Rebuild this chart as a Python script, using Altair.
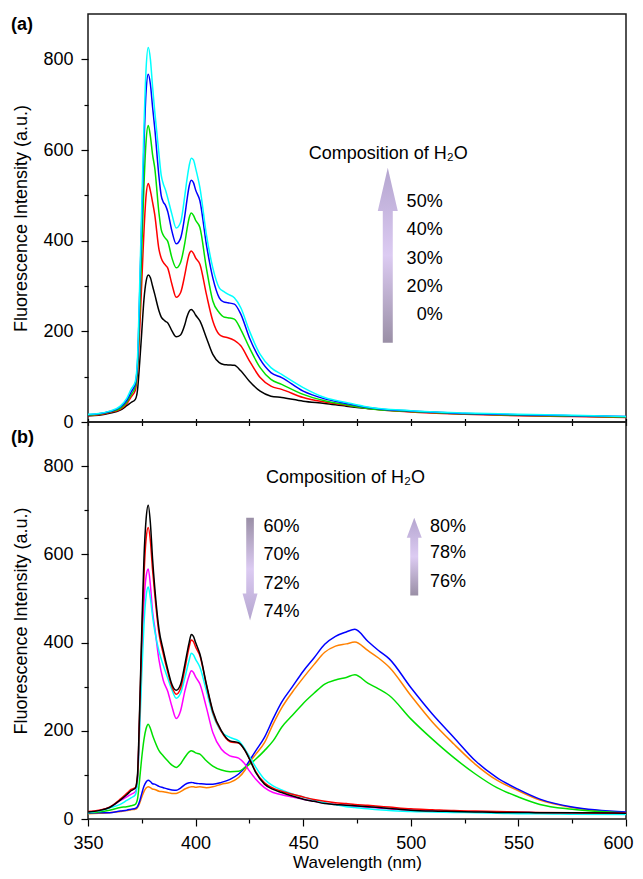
import altair as alt
import pandas as pd

# ---------------- data: panel (a) ----------------
wl_a = [350, 355, 360, 365, 368, 370, 372,
        373, 374, 375, 376, 377, 378, 379, 380, 381,
        383, 384, 385, 386, 387, 389, 391, 393, 395, 396, 397, 398, 399, 400,
        402, 405, 408, 411, 413, 415, 418, 421, 425, 430, 435, 440,
        450, 460, 470, 480, 500, 525, 550, 575, 600]
a_50 = [17, 19, 24, 35, 52, 72, 90,
        140, 300, 480, 650, 780, 826, 800, 740, 686,
        590, 545, 525, 512, 495, 458, 428, 440, 500, 535, 565, 582, 578, 560,
        517, 414, 340, 296, 288, 282, 274, 252, 201, 149, 120, 105,
        76, 54, 43, 33, 25, 20, 17, 15, 12]
a_40 = [16, 18, 23, 33, 48, 66, 85,
        130, 280, 450, 610, 730, 767, 745, 695, 649,
        540, 500, 485, 478, 465, 421, 393, 405, 455, 490, 520, 533, 528, 512,
        488, 392, 318, 274, 265, 263, 260, 238, 186, 138, 109, 98,
        68, 51, 41, 32, 24, 19, 16, 14, 12]
a_30 = [15, 17, 22, 30, 44, 60, 78,
        120, 240, 380, 520, 620, 654, 630, 590, 561,
        460, 425, 412, 405, 399, 362, 340, 352, 395, 425, 450, 461, 456, 445,
        429, 340, 267, 241, 232, 230, 227, 204, 164, 120, 94, 83,
        61, 47, 38, 30, 23, 18, 15, 13, 11]
a_20 = [14, 16, 21, 28, 40, 55, 70,
        110, 200, 310, 420, 500, 526, 510, 485, 458,
        380, 362, 352, 346, 340, 304, 275, 285, 325, 350, 370, 377, 372, 362,
        348, 282, 223, 193, 188, 186, 180, 168, 135, 98, 79, 72,
        54, 44, 37, 30, 22, 17, 14, 12, 10]
a_0 = [14, 15, 19, 26, 36, 43, 50,
       70, 130, 200, 270, 310, 324, 318, 300, 282,
       245, 232, 226, 222, 219, 201, 188, 192, 215, 232, 244, 248, 244, 236,
       223, 186, 149, 131, 127, 126, 125, 113, 90, 68, 57, 54,
       46, 41, 35, 30, 23, 18, 15, 13, 11]
series_a = ["0%", "20%", "30%", "40%", "50%"]
colors_a = ["#000000", "#ff0000", "#00e000", "#0000ff", "#00ffff"]

# ---------------- data: panel (b) ----------------
wl_b = [350, 355, 360, 365, 368, 370, 372,
        373, 374, 375, 376, 377, 378, 379, 380, 381,
        383, 385, 387, 389, 391, 393, 395, 397, 398, 399, 400,
        402, 405, 408, 412, 416, 420, 423, 425, 428, 432, 436, 440,
        445, 450, 455, 460, 465, 470, 474, 480, 485, 490,
        500, 510, 520, 530, 540, 550, 560, 575, 600]
b_60 = [16, 19, 26, 43, 55, 64, 70,
        100, 250, 430, 590, 680, 711, 670, 590, 526,
        430, 382, 340, 305, 292, 305, 350, 400, 418, 414, 400,
        374, 306, 245, 200, 177, 173, 155, 136, 105, 79, 67, 60,
        52, 45, 40, 35, 33, 31, 30, 28, 26, 24,
        20, 18, 17, 16, 15, 15, 14, 14, 13]
b_70 = [17, 20, 27, 45, 58, 67, 71,
        95, 240, 410, 550, 635, 661, 630, 565, 511,
        420, 374, 334, 300, 283, 296, 340, 390, 406, 402, 390,
        370, 304, 242, 198, 175, 172, 155, 137, 107, 82, 70, 63,
        56, 50, 44, 40, 37, 35, 33, 31, 29, 27,
        23, 21, 19, 18, 17, 16, 15, 14, 13]
b_72 = [15, 18, 25, 33, 42, 48, 55,
        85, 200, 330, 440, 505, 526, 500, 460, 427,
        380, 348, 320, 293, 274, 285, 320, 360, 376, 372, 362,
        344, 291, 238, 198, 185, 177, 158, 142, 117, 90, 75, 66,
        57, 50, 43, 37, 32, 28, 26, 23, 21, 19,
        17, 16, 15, 14, 13, 12, 12, 11, 10]
b_74 = [16, 19, 26, 42, 50, 56, 62,
        90, 220, 380, 490, 550, 567, 530, 470, 435,
        360, 314, 290, 255, 228, 245, 290, 325, 336, 332, 322,
        306, 253, 196, 158, 143, 138, 124, 109, 90, 71, 60, 55,
        50, 45, 40, 36, 33, 31, 29, 27, 25, 23,
        20, 18, 17, 16, 15, 15, 14, 14, 14]
b_76 = [14, 16, 20, 26, 28, 30, 33,
        45, 90, 140, 180, 205, 215, 205, 190, 177,
        155, 143, 132, 122, 117, 125, 140, 152, 155, 153, 150,
        147, 132, 120, 111, 107, 108, 117, 124, 136, 155, 177, 208,
        235, 262, 285, 306, 315, 321, 327, 308, 295, 280,
        227, 181, 139, 102, 71, 50, 33, 22, 14]
b_78 = [12, 13, 14, 17, 19, 21, 22,
        26, 36, 50, 62, 70, 73, 71, 68, 67,
        63, 62, 60, 58, 58, 62, 68, 72, 73, 73, 72,
        73, 71, 73, 79, 83, 94, 111, 128, 147, 173, 215, 252,
        288, 320, 350, 378, 392, 397, 401, 382, 365, 344,
        280, 220, 170, 124, 88, 64, 43, 26, 15]
b_80 = [13, 14, 14, 18, 20, 22, 24,
        28, 40, 58, 74, 84, 88, 85, 80, 79,
        74, 71, 68, 66, 65, 70, 78, 82, 83, 82, 81,
        80, 79, 79, 83, 90, 102, 117, 132, 155, 185, 227, 265,
        300, 335, 365, 396, 414, 424, 430, 403, 382, 363,
        298, 238, 185, 132, 94, 67, 45, 27, 16]
series_b = ["78%", "80%", "76%", "74%", "72%", "70%", "60%"]
colors_b = ["#ff8000", "#0000ff", "#00e000", "#ff00ff", "#00ffff", "#ff0000", "#000000"]

# annotation texts
comp_text = ["Composition of H\u2082O"]
labels_a = ["50%", "40%", "30%", "20%", "0%"]
labels_b_down = ["60%", "70%", "72%", "74%"]
labels_b_up = ["80%", "78%", "76%"]


def long(wl, names, arrays):
    rows = []
    for name, vals in zip(names, arrays):
        for w, v in zip(wl, vals):
            rows.append({"wl": w, "val": v, "series": name})
    return pd.DataFrame(rows)


df_a = long(wl_a, series_a, [a_0, a_20, a_30, a_40, a_50])
df_b = long(wl_b, series_b, [b_78, b_80, b_76, b_74, b_72, b_70, b_60])

FONT = "Liberation Sans"
FS = 18
W, HA, HB = 538, 408, 397

xs = alt.Scale(domain=[350, 600], nice=False, zero=False)
ys = alt.Scale(domain=[0, 900], nice=False)
x_ticks = list(range(350, 601, 25))
y_ticks = list(range(0, 801, 100))


def left_axis():
    return alt.Axis(orient="left", values=y_ticks,
                    labelExpr="datum.value % 200 === 0 ? datum.label : ''",
                    tickSize={"condition": {"test": "datum.value % 200 === 0", "value": 7}, "value": 4},
                    tickColor="black", tickWidth=1.2, domain=False, grid=False,
                    labelFont=FONT, labelFontSize=FS, labelColor="black", labelPadding=8,
                    title="Fluorescence Intensity (a.u.)", titleFont=FONT, titleFontSize=18,
                    titleFontWeight="normal", titleColor="black", titlePadding=12)


def bottom_axis_labeled():
    return alt.Axis(orient="bottom", values=x_ticks,
                    labelExpr="datum.value % 50 === 0 ? datum.label : ''",
                    tickSize={"condition": {"test": "datum.value % 50 === 0", "value": 7}, "value": 4},
                    labelOffset={"condition": {"test": "datum.value === 600", "value": -8}, "value": 0},
                    tickColor="black", tickWidth=1.2, domain=False, grid=False, labelFlush=False,
                    labelFont=FONT, labelFontSize=FS, labelColor="black", labelPadding=8,
                    title="Wavelength (nm)", titleFont=FONT, titleFontSize=17,
                    titleFontWeight="normal", titleColor="black", titlePadding=2)


def boundary_axis():
    # small ticks straddling the border between the two panels
    return alt.Axis(orient="bottom", values=x_ticks, labels=False, tickSize=7, offset=-3.5,
                    tickColor="black", tickWidth=1.2, domain=False, grid=False, title=None)


def grad(up=True):
    stops = [alt.GradientStop(offset=0, color="#9a8fa6"),
             alt.GradientStop(offset=0.5, color="#dccbf2"),
             alt.GradientStop(offset=1, color="#b4a5cf")]
    if up:
        return alt.LinearGradient(gradient="linear", stops=stops, x1=0, x2=0, y1=1, y2=0)
    return alt.LinearGradient(gradient="linear", stops=stops, x1=0, x2=0, y1=0, y2=1)


ARROW_A = "M 0 -8.75 L 1 -4.42 L 0.5 -4.42 L 0.5 8.75 L -0.5 8.75 L -0.5 -4.42 L -1 -4.42 Z"
ARROW_DOWN = "M -0.51 -6.85 L 0.51 -6.85 L 0.51 3.25 L 1 3.25 L 0 6.85 L -1 3.25 L -0.51 3.25 Z"
ARROW_UP = "M 0 -5.18 L 1 -2.51 L 0.53 -2.51 L 0.53 5.18 L -0.53 5.18 L -0.53 -2.51 L -1 -2.51 Z"


def xy_noaxis():
    return dict(x=alt.X("wl:Q", scale=xs, axis=None), y=alt.Y("val:Q", scale=ys, axis=None))


def arrow(wl, val, path, size, up):
    d = pd.DataFrame({"wl": [wl], "val": [val]})
    return alt.Chart(d).mark_point(shape=path, size=size, filled=True, fill=grad(up),
                                   strokeWidth=0, opacity=1).encode(**xy_noaxis())


def texts(wls, vals, txt, align):
    d = pd.DataFrame({"wl": wls, "val": vals, "t": txt})
    return alt.Chart(d).mark_text(align=align, baseline="middle", font=FONT, fontSize=FS,
                                  color="black").encode(text="t:N", **xy_noaxis())


def panel_label(txt, y):
    d = pd.DataFrame({"t": [txt]})
    return alt.Chart(d).mark_text(align="left", baseline="middle", font=FONT, fontSize=18,
                                  fontWeight="bold", color="black").encode(
        text="t:N", x=alt.value(-77), y=alt.value(y))


# ---------------- panel (a) ----------------
lines_a = alt.Chart(df_a).mark_line(strokeWidth=1.5, interpolate="monotone").encode(
    x=alt.X("wl:Q", scale=xs, axis=boundary_axis()),
    y=alt.Y("val:Q", scale=ys, axis=left_axis()),
    color=alt.Color("series:N", scale=alt.Scale(domain=series_a, range=colors_a), legend=None),
)
pa = alt.layer(
    lines_a,
    arrow(489.3, 368, ARROW_A, 400, True),
    texts([514.8] * 5, [486, 423, 360, 298, 235], labels_a, "right"),
    texts([489.5], [591], comp_text, "center"),
    panel_label("(a)", 10.6),
).properties(width=W, height=HA).resolve_axis(x="independent", y="independent")

# ---------------- panel (b) ----------------
lines_b = alt.Chart(df_b).mark_line(strokeWidth=1.5, interpolate="monotone").encode(
    x=alt.X("wl:Q", scale=xs, axis=bottom_axis_labeled()),
    y=alt.Y("val:Q", scale=ys, axis=left_axis()),
    color=alt.Color("series:N", scale=alt.Scale(domain=series_b, range=colors_b), legend=None),
)
pb = alt.layer(
    lines_b,
    arrow(425.3, 566.6, ARROW_DOWN, 225, False),
    arrow(501.6, 595, ARROW_UP, 225, True),
    texts([431.5] * 4, [661, 598, 533, 470], labels_b_down, "left"),
    texts([508.9] * 3, [662, 602, 537], labels_b_up, "left"),
    texts([432.7], [773], comp_text, "left"),
    panel_label("(b)", 16),
).properties(width=W, height=HB).resolve_axis(x="independent", y="independent")

chart = alt.vconcat(pa, pb, spacing=0, bounds="flush",
                    padding={"left": 2, "top": 5, "right": 0, "bottom": 0}).resolve_scale(
    color="independent").configure(font=FONT).configure_view(stroke="#1a1a1a", strokeWidth=1.5)

chart.save("out.html", embed_options={"renderer": "svg", "actions": False})
